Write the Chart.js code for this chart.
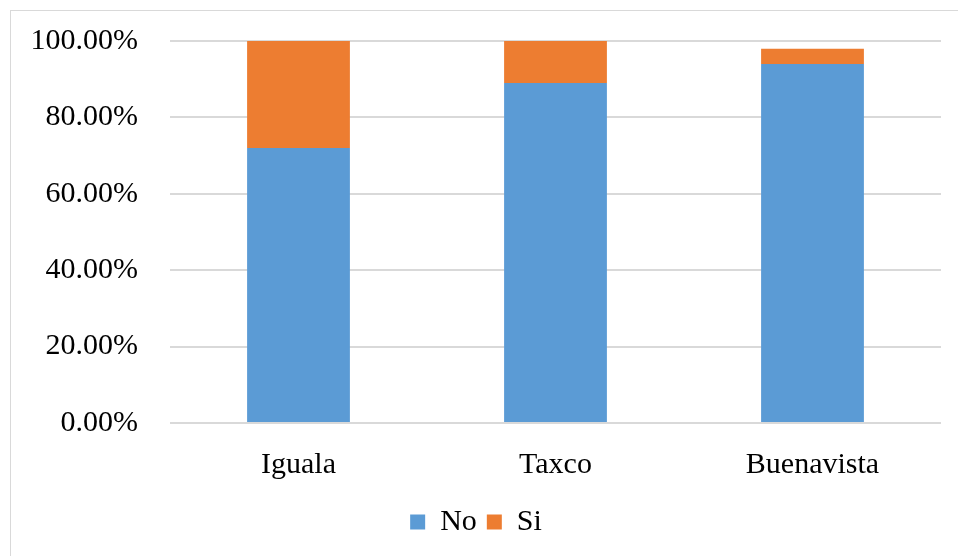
<!DOCTYPE html>
<html>
<head>
<meta charset="utf-8">
<script src="https://cdn.jsdelivr.net/npm/chart.js@4"></script>
<style>
  body { margin: 0; background: #fff; }
  #box { position: absolute; left: 10px; top: 10px; width: 960px; height: 560px;
         border: 1px solid #d9d9d9; }
  #wrap { position: absolute; left: 0; top: 0; width: 948px; height: 546px; }
</style>
</head>
<body>
<div id="box"><div id="wrap"><canvas id="chart-estados"></canvas></div></div>
<script>
var categories = ['Iguala', 'Taxco', 'Buenavista'];
var noValues = [72, 89, 94];
var siValues = [28, 11, 4];
var yTicks = [0, 20, 40, 60, 80, 100];

var font = "'Liberation Serif', 'Times New Roman', serif";

var ctx = document.getElementById('chart-estados');
var myChart = new Chart(ctx, {
    type: 'bar',
    data: {
        labels: categories,
        datasets: [
            { label: 'No', data: noValues, backgroundColor: '#5B9BD5' },
            { label: 'Si', data: siValues, backgroundColor: '#ED7D31' }
        ]
    },
    options: {
        responsive: true,
        maintainAspectRatio: false,
        animation: false,
        layout: { padding: { left: 0, right: 18, top: 30, bottom: 10 } },
        datasets: { bar: { categoryPercentage: 1, barPercentage: 0.4 } },
        plugins: {
            tooltip: { enabled: false },
            legend: {
                position: 'bottom',
                labels: {
                    font: { family: font, size: 30 },
                    color: '#000',
                    boxWidth: 15,
                    boxHeight: 15,
                    padding: 10
                }
            }
        },
        scales: {
            x: {
                stacked: true,
                afterFit: function(scale) {
                    scale.height = 74;
                    scale.paddingLeft = 0;
                    scale.paddingRight = 0;
                },
                grid: { display: false },
                border: { display: false },
                ticks: { font: { family: font, size: 30 }, color: '#000', padding: 16 }
            },
            y: {
                stacked: true,
                min: 0,
                max: 100,
                afterFit: function(scale) {
                    scale.width = 159;
                    scale.paddingTop = 0;
                    scale.paddingBottom = 0;
                },
                afterBuildTicks: function(scale) {
                    scale.ticks = yTicks.map(function(v) { return { value: v }; });
                },
                grid: { color: '#d9d9d9', lineWidth: 2, drawTicks: false },
                border: { display: false },
                ticks: {
                    font: { family: font, size: 30 },
                    color: '#000',
                    padding: 32,
                    callback: function(v) { return v.toFixed(2) + '%'; }
                }
            }
        }
    }
});
</script>
</body>
</html>
